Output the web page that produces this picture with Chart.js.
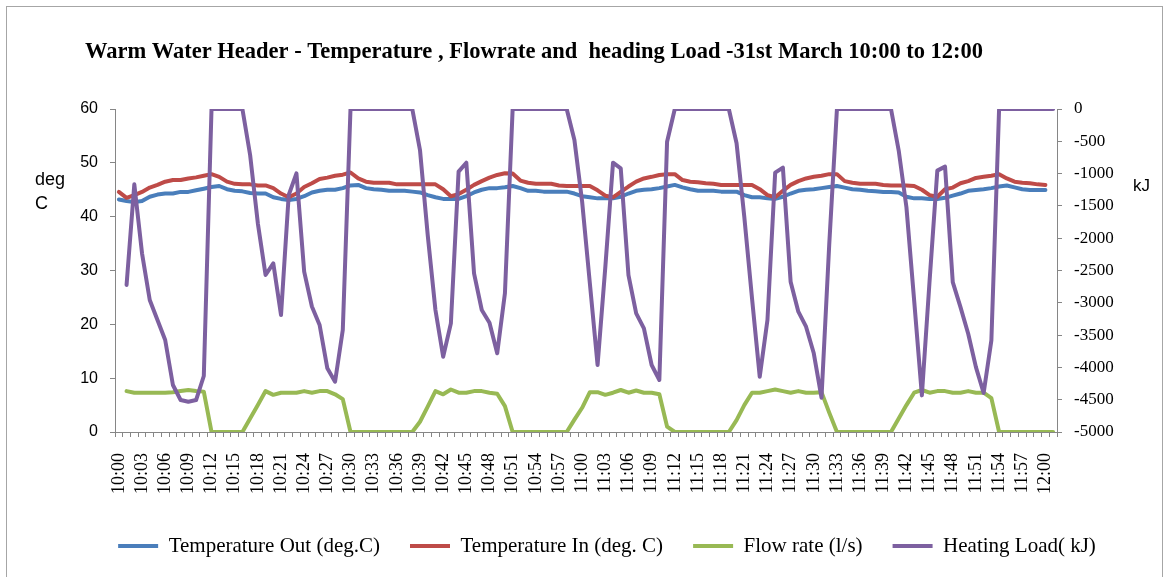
<!DOCTYPE html>
<html>
<head>
<meta charset="utf-8">
<script src="https://cdn.jsdelivr.net/npm/chart.js@4.4.1/dist/chart.umd.min.js"></script>
<style>
  html, body { margin: 0; padding: 0; background: #fff; }
  #wrap { position: relative; width: 1166px; height: 577px; overflow: hidden; }
  #frame { position: absolute; left: 6px; top: 6px; width: 1157px; height: 620px;
           border: 1px solid #a6a6a6; box-sizing: border-box; pointer-events: none; }
  canvas { display: block; }
</style>
</head>
<body>
<div id="wrap">
  <canvas id="chart" width="1166" height="577"></canvas>
  <div id="frame"></div>
</div>
<script>
// one category per minute, 10:00 .. 12:01 (the last slot has no label)
const timeLabels = [];
for (let m = 0; m <= 121; m++) {
  const h = 10 + Math.floor(m / 60);
  const mm = m % 60;
  timeLabels.push(h + ':' + (mm < 10 ? '0' : '') + mm);
}

// deg.C, minutes 10:00 .. 12:00
const tempOut = [
  43.2, 42.9, 42.7, 42.9, 43.7, 44.1, 44.3, 44.3, 44.6, 44.6,
  44.9, 45.2, 45.5, 45.7, 45.1, 44.8, 44.7, 44.4, 44.3, 44.3,
  43.6, 43.3, 43.1, 43.3, 43.8, 44.5, 44.8, 45.0, 45.0, 45.3,
  45.8, 45.9, 45.3, 45.1, 45.0, 44.8, 44.8, 44.8, 44.65, 44.5,
  44.0, 43.6, 43.3, 43.3, 43.3, 43.8, 44.5, 45.0, 45.3, 45.3,
  45.45, 45.7, 45.3, 44.8, 44.8, 44.65, 44.65, 44.65, 44.65, 44.3,
  43.8, 43.6, 43.4, 43.4, 43.4, 43.7, 44.3, 44.8, 45.0, 45.1,
  45.3, 45.6, 45.9, 45.45, 45.1, 44.8, 44.8, 44.8, 44.65, 44.65,
  44.65, 44.0, 43.6, 43.6, 43.4, 43.3, 43.7, 44.3, 44.8, 45.0,
  45.1, 45.3, 45.5, 45.7, 45.4, 45.1, 45.0, 44.8, 44.7, 44.6,
  44.6, 44.5, 43.7, 43.4, 43.4, 43.3, 43.3, 43.5, 43.9, 44.3,
  44.8, 44.95, 45.1, 45.3, 45.6, 45.8, 45.45, 45.1, 44.95, 44.95,
  44.95, null
];

const tempIn = [
  44.6, 43.5, 44.0, 44.6, 45.4, 45.9, 46.5, 46.8, 46.8, 47.1,
  47.3, 47.6, 47.9, 47.4, 46.5, 46.1, 46.0, 46.0, 45.8, 45.8,
  45.3, 44.3, 43.6, 44.3, 45.5, 46.2, 47.0, 47.25, 47.6, 47.8,
  48.2, 47.1, 46.5, 46.3, 46.3, 46.3, 46.0, 46.0, 46.0, 46.0,
  46.0, 46.0, 45.1, 43.8, 44.2, 45.0, 45.9, 46.6, 47.25, 47.75,
  48.06, 48.0, 46.7, 46.3, 46.1, 46.1, 46.1, 45.8, 45.7, 45.7,
  45.7, 45.7, 44.9, 43.9, 43.6, 44.6, 45.6, 46.5, 47.1, 47.4,
  47.75, 47.9, 47.9, 46.8, 46.5, 46.4, 46.2, 46.1, 45.9, 45.9,
  45.9, 45.9, 45.9, 45.1, 44.0, 43.6, 44.8, 45.9, 46.6, 47.1,
  47.4, 47.6, 47.9, 47.9, 46.6, 46.3, 46.1, 46.1, 46.1, 45.9,
  45.8, 45.8, 45.8, 45.7, 45.0, 44.0, 43.7, 45.1, 45.4, 46.2,
  46.6, 47.2, 47.4, 47.6, 47.9, 47.1, 46.5, 46.3, 46.2, 46.0,
  45.9, null
];

// l/s, one slot later than the temperatures
const flowRate = [
  null, 7.6, 7.3, 7.3, 7.3, 7.3, 7.3, 7.4, 7.6, 7.8,
  7.6, 7.5, 0, 0, 0, 0, 0, 2.5, 5.0, 7.6,
  6.9, 7.3, 7.3, 7.3, 7.6, 7.3, 7.6, 7.6, 7.0, 6.1,
  0, 0, 0, 0, 0, 0, 0, 0, 0, 1.9,
  4.7, 7.6, 7.0, 7.9, 7.3, 7.3, 7.6, 7.6, 7.3, 7.1,
  4.8, 0, 0, 0, 0, 0, 0, 0, 0, 2.3,
  4.5, 7.4, 7.4, 6.9, 7.3, 7.8, 7.3, 7.7, 7.3, 7.3,
  7.0, 1.0, 0, 0, 0, 0, 0, 0, 0, 0,
  2.2, 5.0, 7.3, 7.3, 7.6, 7.9, 7.6, 7.3, 7.6, 7.3,
  7.3, 7.4, 3.6, 0, 0, 0, 0, 0, 0, 0,
  0, 2.5, 5.0, 7.3, 7.8, 7.3, 7.6, 7.6, 7.3, 7.3,
  7.6, 7.3, 7.3, 6.3, 0, 0, 0, 0, 0, 0,
  0, 0
];

// kJ, right axis
const heatingLoad = [
  null, -2724, -1166, -2234, -2957, -3266, -3576, -4272, -4505, -4531,
  -4505, -4133, 0, 0, 0, 0, 0, -712, -1770, -2570,
  -2389, -3189, -1331, -996, -2518, -3058, -3344, -4014, -4221, -3421,
  0, 0, 0, 0, 0, 0, 0, 0, 0, -635,
  -1950, -3111, -3834, -3318, -970, -831, -2544, -3111, -3308, -3782,
  -2853, 0, 0, 0, 0, 0, 0, 0, 0, -480,
  -1435, -2700, -3963, -2450, -831, -918, -2570, -3163, -3395, -3963,
  -4195, -506, 0, 0, 0, 0, 0, 0, 0, 0,
  -531, -1667, -2930, -4144, -3266, -986, -908, -2673, -3137, -3370,
  -3782, -4469, -2100, 0, 0, 0, 0, 0, 0, 0,
  0, -644, -1521, -2964, -4433, -2655, -954, -892, -2680, -3067,
  -3479, -3995, -4397, -3582, 0, 0, 0, 0, 0, 0,
  0, 0
];

const chartTitle = 'Warm Water Header - Temperature , Flowrate and  heading Load -31st March 10:00 to 12:00';
const leftAxisTitle = ['deg', 'C'];
const rightAxisTitle = 'kJ';

const axisGrey = '#868686';

// title and the two horizontal axis captions sit where Excel put them
const captions = {
  id: 'captions',
  afterDraw(chart) {
    const ctx = chart.ctx;
    ctx.save();
    ctx.fillStyle = '#000';
    ctx.textBaseline = 'alphabetic';
    ctx.textAlign = 'center';
    ctx.font = 'bold 22.5px "Liberation Serif"';
    ctx.fillText(chartTitle, 534, 58);
    ctx.textAlign = 'left';
    ctx.font = '18px "Liberation Sans"';
    ctx.fillText(leftAxisTitle[0], 35, 185);
    ctx.fillText(leftAxisTitle[1], 35, 209);
    ctx.font = '17px "Liberation Sans"';
    ctx.fillText(rightAxisTitle, 1133, 191);
    ctx.restore();
  }
};

function lineSet(label, data, color, axis, order) {
  return {
    label: label,
    data: data,
    yAxisID: axis,
    borderColor: color,
    backgroundColor: color,
    borderWidth: 4,
    pointRadius: 0,
    pointHoverRadius: 0,
    tension: 0,
    fill: false,
    borderJoinStyle: 'round',
    borderCapStyle: 'round',
    order: order
  };
}

new Chart(document.getElementById('chart'), {
  type: 'line',
  data: {
    labels: timeLabels,
    datasets: [
      lineSet('Temperature Out (deg.C)', tempOut, '#4A7EBB', 'y', 4),
      lineSet('Temperature In (deg. C)', tempIn, '#BE4B48', 'y', 3),
      lineSet('Flow rate (l/s)', flowRate, '#98B954', 'y', 2),
      lineSet('Heating Load( kJ)', heatingLoad, '#7D60A0', 'y1', 1)
    ]
  },
  options: {
    responsive: false,
    animation: false,
    devicePixelRatio: 1,
    layout: { padding: { left: 48, right: 0, top: 109, bottom: 10.5 } },
    plugins: {
      title: { display: false },
      tooltip: { enabled: false },
      legend: {
        position: 'bottom',
        labels: {
          usePointStyle: true,
          pointStyle: 'line',
          pointStyleWidth: 40,
          padding: 30,
          color: '#000',
          font: { family: 'Liberation Serif', size: 21 },
          sort: (a, b) => a.datasetIndex - b.datasetIndex
        }
      }
    },
    scales: {
      x: {
        offset: true,
        grid: { display: true, drawOnChartArea: false, offset: true, tickLength: 5, color: axisGrey },
        border: { color: axisGrey, width: 1 },
        ticks: {
          autoSkip: false,
          minRotation: 90,
          maxRotation: 90,
          padding: 16,
          color: '#000',
          font: { family: 'Liberation Serif', size: 18 },
          callback: function (value, index) {
            return index % 3 === 0 && index <= 120 ? timeLabels[index] : '';
          }
        },
        afterFit: (scale) => { scale.height = 73.5; }
      },
      y: {
        position: 'left',
        min: 0,
        max: 60,
        grid: { drawOnChartArea: false, tickLength: 5, color: axisGrey },
        border: { color: axisGrey, width: 1 },
        ticks: {
          stepSize: 10,
          padding: 12,
          color: '#000',
          font: { family: 'Liberation Sans', size: 16 },
          callback: (v) => String(v)
        },
        afterFit: (scale) => { scale.width = 67; }
      },
      y1: {
        position: 'right',
        min: -5000,
        max: 0,
        grid: { drawOnChartArea: false, tickLength: 5, color: axisGrey },
        border: { color: axisGrey, width: 1 },
        ticks: {
          stepSize: 500,
          padding: 12,
          color: '#000',
          font: { family: 'Liberation Serif', size: 17 },
          callback: (v) => String(v)
        },
        afterFit: (scale) => { scale.width = 109; }
      }
    }
  },
  plugins: [captions]
});
</script>
</body>
</html>
